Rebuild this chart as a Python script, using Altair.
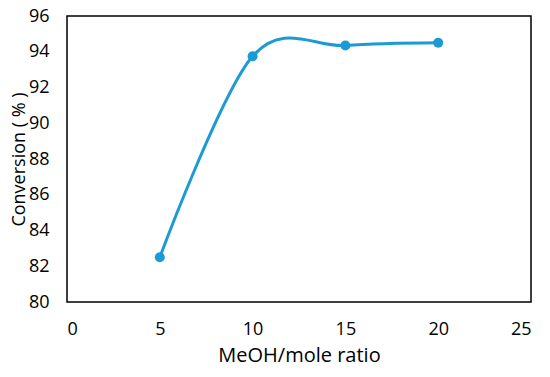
import altair as alt
import pandas as pd

ratio = [5, 10, 15, 20]
conversion = [82.5, 93.75, 94.35, 94.5]

df = pd.DataFrame({"ratio": ratio, "conversion": conversion})
color = "#1C9AD6"
font = "Open Sans"

x = alt.X("ratio:Q", title="MeOH/mole ratio",
          scale=alt.Scale(domain=[0, 25], nice=False, zero=False),
          axis=alt.Axis(values=[0, 5, 10, 15, 20, 25], grid=False, ticks=False,
                        domain=False, labelFontSize=18, titleFontSize=20,
                        labelPadding=18, titlePadding=7, labelFont=font,
                        titleFont=font, labelColor="black", titleColor="black",
                        titleFontWeight="normal"))
y = alt.Y("conversion:Q", title="Conversion ( % )",
          scale=alt.Scale(domain=[80, 96], nice=False, zero=False),
          axis=alt.Axis(values=[80, 82, 84, 86, 88, 90, 92, 94, 96], grid=False,
                        ticks=False, domain=False, labelFontSize=18,
                        titleFontSize=18, labelPadding=18,
                        titleBaseline="middle", titleX=-48, titleY=143,
                        titleAngle=270, titleAlign="center",
                        labelFont=font, titleFont=font, labelColor="black",
                        titleColor="black", titleFontWeight="normal"))

base = alt.Chart(df)
line = base.mark_line(interpolate="cardinal", tension=0, color=color,
                      strokeWidth=3).encode(x=x, y=y)
pts = base.mark_circle(color=color, size=100, opacity=1).encode(x=x, y=y)

chart = (line + pts).properties(width=464, height=286).configure_view(
    stroke="black", strokeWidth=1.5
).properties(
    autosize=alt.AutoSizeParams(type="none"),
    padding={"left": 59, "top": 8, "right": 11, "bottom": 67},
)

chart.save("out.html", embed_options={"renderer": "svg", "actions": False})
